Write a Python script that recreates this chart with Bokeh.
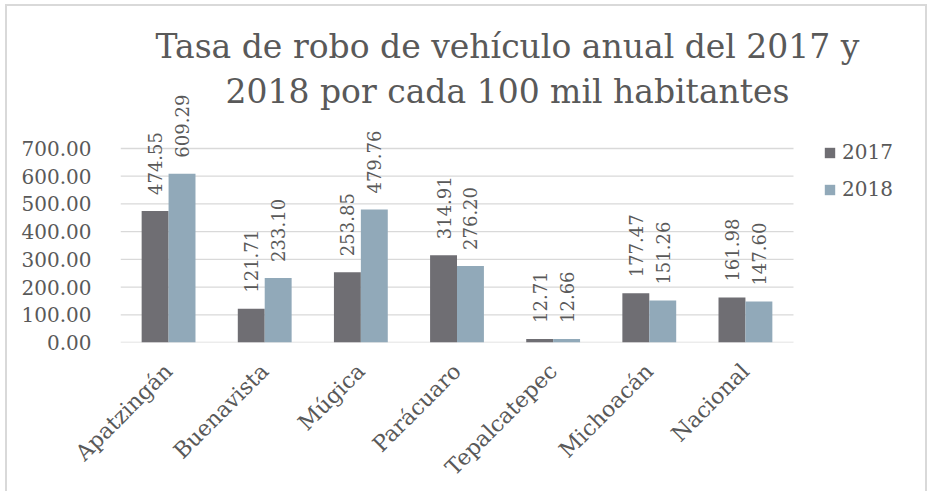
import math
from bokeh.plotting import figure
from bokeh.models import (ColumnDataSource, Range1d, NumeralTickFormatter, LabelSet,
                          Label, Legend, LegendItem, FixedTicker)
from bokeh.core.properties import value
from bokeh.transform import dodge
from bokeh.embed import file_html
from bokeh.resources import INLINE

categories = ["Apatzingán", "Buenavista", "Múgica", "Parácuaro", "Tepalcatepec", "Michoacán", "Nacional"]
values_2017 = [474.55, 121.71, 253.85, 314.91, 12.71, 177.47, 161.98]
values_2018 = [609.29, 233.10, 479.76, 276.20, 12.66, 151.26, 147.60]
series_names = ["2017", "2018"]
y_ticks = [0, 100, 200, 300, 400, 500, 600, 700]
title_lines = ["Tasa de robo de vehículo anual del 2017 y", "2018 por cada 100 mil habitantes"]

FONT = "DejaVu Serif"
TXT = "#595959"
C17 = "#6f6e73"
C18 = "#91a9b9"
GRID = "#d9d9d9"

# layout in page pixels
OX, OY = 7, 6            # content origin (inside the css border)
W, H = 922, 487
FL, FR, FT, FB = 120, OX + W, 8, 342   # frame edges
CAT_RIGHT = 793          # right end of the category band
Y_TOP_TICK = 148         # where 700 sits
unit = (CAT_RIGHT - FL) / len(categories)
x_end = -0.5 + (FR - FL) / unit
y_end = y_ticks[-1] * (FB - FT) / (FB - Y_TOP_TICK)

idx = list(range(len(categories)))
src = ColumnDataSource(dict(
    idx=idx,
    v17=values_2017,
    v18=values_2018,
    l17=["%.2f" % v for v in values_2017],
    l18=["%.2f" % v for v in values_2018],
))

p = figure(width=W, height=H, x_range=Range1d(-0.5, x_end), y_range=Range1d(0, y_end),
           output_backend="svg", toolbar_location=None,
           min_border_left=FL - OX, min_border_right=OX + W - FR,
           min_border_top=FT - OY, min_border_bottom=OY + H - FB)
p.styles = {"margin-left": "5px", "margin-top": "4px",
            "border-left": "2px solid #d9d9d9", "border-top": "2px solid #d9d9d9",
            "border-right": "2px solid #d9d9d9"}
p.outline_line_color = None
p.border_fill_color = "white"
p.background_fill_color = "white"
p.xgrid.grid_line_color = None
p.ygrid.grid_line_color = None

# horizontal gridlines over the category band only
gsrc = ColumnDataSource(dict(y=y_ticks))
p.segment(x0=-0.5, x1=len(categories) - 0.5, y0="y", y1="y", source=gsrc,
          line_color=GRID, line_width=1.3, level="underlay")

bw = 0.28
r17 = p.vbar(x=dodge("idx", -bw / 2), top="v17", width=bw, source=src,
             fill_color=C17, line_color=None)
r18 = p.vbar(x=dodge("idx", bw / 2), top="v18", width=bw, source=src,
             fill_color=C18, line_color=None)

for field, lab, off in (("v17", "l17", -bw / 2), ("v18", "l18", bw / 2)):
    p.add_layout(LabelSet(x=dodge("idx", off), y=field, text=lab, source=src,
                          angle=math.pi / 2, text_align="left", text_baseline="middle",
                          y_offset=16, text_font=value(FONT), text_font_size=value("18px"),
                          text_color=value(TXT)))

p.yaxis.ticker = FixedTicker(ticks=y_ticks)
p.yaxis.formatter = NumeralTickFormatter(format="0.00")
p.yaxis.axis_line_color = None
p.yaxis.major_tick_line_color = None
p.yaxis.minor_tick_line_color = None
p.yaxis.major_label_standoff = 23
p.yaxis.major_label_text_font = FONT
p.yaxis.major_label_text_font_size = "20px"
p.yaxis.major_label_text_color = TXT

p.xaxis.ticker = FixedTicker(ticks=idx)
p.xaxis.major_label_overrides = {i: c for i, c in zip(idx, categories)}
p.xaxis.axis_line_color = None
p.xaxis.major_tick_line_color = None
p.xaxis.minor_tick_line_color = None
p.xaxis.major_label_orientation = math.pi / 4
p.xaxis.major_label_standoff = 19
p.xaxis.major_label_text_font = FONT
p.xaxis.major_label_text_font_size = "22px"
p.xaxis.major_label_text_color = TXT

for i, line in enumerate(title_lines):
    p.add_layout(Label(x=507 - FL, y=FB - (46 + 45 * i), x_units="screen", y_units="screen",
                       text=line, text_align="center", text_baseline="alphabetic",
                       text_font=FONT, text_font_size="33px", text_color=TXT))

legend = Legend(items=[LegendItem(label=series_names[0], renderers=[r17]),
                       LegendItem(label=series_names[1], renderers=[r18])],
                location=(823 - FL, FB - 201), orientation="vertical")
legend.border_line_color = None
legend.background_fill_alpha = 0
legend.glyph_width = 13
legend.glyph_height = 13
legend.label_text_font = FONT
legend.label_text_font_size = "20px"
legend.label_text_color = TXT
legend.label_standoff = 6
legend.spacing = 13
legend.padding = 0
legend.margin = 0
p.add_layout(legend)

open("out.html", "w").write(file_html(p, INLINE))
